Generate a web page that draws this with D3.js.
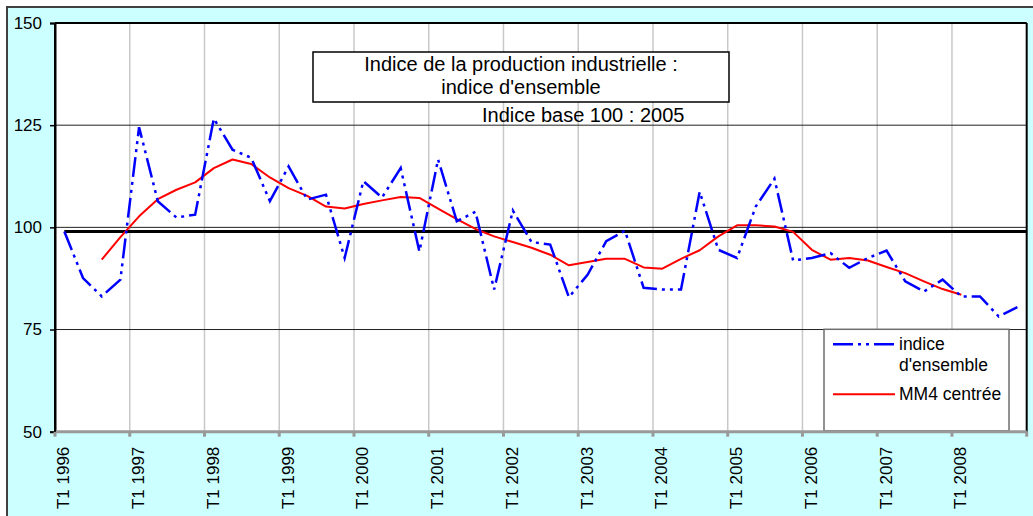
<!DOCTYPE html>
<html>
<head>
<meta charset="utf-8">
<script src="https://cdn.jsdelivr.net/npm/d3@7"></script>
<style>
  body { margin: 0; background: #fff; }
  text { font-family: Arial, "Liberation Sans", sans-serif; fill: #000; }
</style>
</head>
<body>
<div id="chart"></div>
<script>
// quarterly categories T1 1996 .. T4 2008
var years = d3.range(1996, 2009);
var categories = [];
years.forEach(function(y) {
  [1, 2, 3, 4].forEach(function(q) { categories.push("T" + q + " " + y); });
});

// indice d'ensemble (base 100 : 2005)
var indice = [
  99.0, 87.6, 83.1, 87.2, 124.5, 106.4, 102.4, 103.1,
  126.6, 119.0, 117.0, 106.4, 114.9, 106.8, 108.0, 92.5,
  111.3, 107.3, 114.5, 94.1, 116.6, 101.5, 103.8, 84.8,
  104.1, 96.4, 95.8, 82.9, 88.4, 96.6, 99.2, 85.2,
  84.8, 84.8, 108.7, 94.5, 92.5, 105.1, 111.9, 91.9,
  92.5, 93.7, 90.1, 92.5, 94.3, 86.8, 84.3, 87.2,
  83.1, 83.1, 78.2, 80.5
];

// MM4 centrée, first value sits on T3 1996
var mm4Start = 2;
var mm4 = [
  92.1, 97.6, 102.7, 106.9, 109.2, 111.0, 114.5, 116.6,
  115.5, 112.2, 109.6, 107.7, 105.1, 104.6, 105.7, 106.6,
  107.4, 107.2, 104.6, 102.0, 99.6, 97.8, 96.4, 95.0,
  93.3, 90.7, 91.5, 92.3, 92.3, 90.2, 89.9, 92.3,
  94.4, 97.8, 100.5, 100.5, 100.2, 98.9, 94.5, 92.1,
  92.5, 91.9, 90.3, 88.8, 86.8, 84.9, 83.5
];

var refLevel = 99.0;
var yTicks = [50, 75, 100, 125, 150];
var titleLines = ["Indice de la production industrielle :", "indice d'ensemble"];
var subTitle = "Indice base 100 : 2005";
var legendItems = [
  { lines: ["indice", "d'ensemble"], color: "#0000ff", dash: "20,5,3,5,3,5", w: 2.5 },
  { lines: ["MM4 centrée"], color: "#ff0000", dash: null, w: 2 }
];

var svgWidth = 1033;
var svgHeight = 516;
var margin = { top: 23, right: 6.3, bottom: 84.3, left: 55 };
var width = svgWidth - margin.left - margin.right;
var height = svgHeight - margin.top - margin.bottom;

var svg = d3.select("#chart").append("svg")
  .attr("width", svgWidth)
  .attr("height", svgHeight);

// chart area background + border
svg.append("rect")
  .attr("x", 7).attr("y", 7)
  .attr("width", svgWidth).attr("height", svgHeight)
  .attr("fill", "#ccffff")
  .attr("stroke", "#404040")
  .attr("stroke-width", 2);

var chartGroup = svg.append("g")
  .attr("transform", `translate(${margin.left}, ${margin.top})`);

var x = d3.scaleBand()
  .domain(categories)
  .range([0, width])
  .padding(0);
var bw = x.bandwidth();
var cx = function(c) { return x(c) + bw / 2; };

var y = d3.scaleLinear()
  .domain([50, 150])
  .range([height, 0]);

// plot area
chartGroup.append("rect")
  .attr("width", width).attr("height", height)
  .attr("fill", "#fff");

// vertical gridlines at each year boundary
var yearStarts = categories.filter(function(c) { return c.indexOf("T1") === 0; });
chartGroup.append("g").selectAll("line")
  .data(yearStarts.slice(1))
  .enter().append("line")
  .attr("x1", d => x(d)).attr("x2", d => x(d))
  .attr("y1", 0).attr("y2", height)
  .attr("stroke", "#c8c8c8")
  .attr("stroke-width", 1.5);

// horizontal gridlines
chartGroup.append("g").selectAll("line")
  .data(yTicks.filter(v => v > 50 && v < 150))
  .enter().append("line")
  .attr("x1", 0).attr("x2", width)
  .attr("y1", d => y(d)).attr("y2", d => y(d))
  .attr("stroke", "#222")
  .attr("stroke-width", 1);

// title box
var boxX = 313 - margin.left, boxY = 52 - margin.top;
chartGroup.append("rect")
  .attr("x", boxX).attr("y", boxY)
  .attr("width", 416).attr("height", 50)
  .attr("fill", "#fff")
  .attr("stroke", "#000")
  .attr("stroke-width", 1.5);

chartGroup.append("g").selectAll("text")
  .data(titleLines)
  .enter().append("text")
  .attr("x", boxX + 208)
  .attr("y", (d, i) => boxY + 19 + i * 23)
  .attr("text-anchor", "middle")
  .style("font-size", "20px")
  .text(d => d);

chartGroup.append("text")
  .attr("x", 482 - margin.left)
  .attr("y", 122 - margin.top)
  .style("font-size", "20px")
  .text(subTitle);

// reference level line
chartGroup.append("line")
  .attr("x1", cx(categories[0])).attr("x2", width)
  .attr("y1", y(refLevel)).attr("y2", y(refLevel))
  .attr("stroke", "#000")
  .attr("stroke-width", 3);

// series
var line = d3.line()
  .x(d => cx(d.cat))
  .y(d => y(d.value));

var indiceData = indice.map((v, i) => ({ cat: categories[i], value: v }));
var mm4Data = mm4.map((v, i) => ({ cat: categories[i + mm4Start], value: v }));

chartGroup.append("path")
  .datum(mm4Data)
  .attr("d", line)
  .attr("fill", "none")
  .attr("stroke", legendItems[1].color)
  .attr("stroke-width", legendItems[1].w)
  .attr("stroke-linejoin", "round");

chartGroup.append("path")
  .datum(indiceData)
  .attr("d", line)
  .attr("fill", "none")
  .attr("stroke", legendItems[0].color)
  .attr("stroke-width", legendItems[0].w)
  .attr("stroke-dasharray", legendItems[0].dash);

// border lines: top and right black
chartGroup.append("line")
  .attr("x1", 0).attr("x2", width).attr("y1", 0).attr("y2", 0)
  .attr("stroke", "#000").attr("stroke-width", 2);
chartGroup.append("line")
  .attr("x1", width).attr("x2", width).attr("y1", 0).attr("y2", height)
  .attr("stroke", "#000").attr("stroke-width", 2);

// legend
var legend = chartGroup.append("g")
  .attr("transform", `translate(${824 - margin.left}, ${329.3 - margin.top})`);
legend.append("rect")
  .attr("width", 185).attr("height", 101.5)
  .attr("fill", "#fff")
  .attr("stroke", "#6e6e6e")
  .attr("stroke-width", 1.5);

var legendRows = [15, 65];
legendItems.forEach(function(item, i) {
  var ly = legendRows[i];
  legend.append("line")
    .attr("x1", 9).attr("x2", 71)
    .attr("y1", ly).attr("y2", ly)
    .attr("stroke", item.color)
    .attr("stroke-width", item.w)
    .attr("stroke-dasharray", item.dash);
  item.lines.forEach(function(t, j) {
    legend.append("text")
      .attr("x", 75)
      .attr("y", ly + 6 + j * 21)
      .style("font-size", "17.5px")
      .text(t);
  });
});

// y axis
var leftAxis = d3.axisLeft(y).tickValues(yTicks).tickSize(5).tickPadding(8);
var yAxis = chartGroup.append("g").call(leftAxis);
yAxis.select(".domain").attr("stroke", "#000").attr("stroke-width", 2);
yAxis.selectAll(".tick line").attr("stroke", "#000").attr("stroke-width", 1.5);
yAxis.selectAll("text")
  .style("font-size", "17px")
  .style("font-family", "Arial, 'Liberation Sans', sans-serif")
  .attr("fill", "#000");

// x axis (ticks between categories, labels on T1 quarters)
var xAxis = chartGroup.append("g")
  .attr("transform", `translate(0, ${height})`);
xAxis.append("line")
  .attr("x1", 0).attr("x2", width)
  .attr("stroke", "#999").attr("stroke-width", 3);
xAxis.selectAll(".xtick")
  .data(yearStarts.map(d => x(d)).concat([width]))
  .enter().append("line")
  .attr("class", "xtick")
  .attr("x1", d => d).attr("x2", d => d)
  .attr("y1", 0).attr("y2", 5)
  .attr("stroke", "#999").attr("stroke-width", 3);
xAxis.selectAll(".xlabel")
  .data(yearStarts)
  .enter().append("text")
  .attr("class", "xlabel")
  .attr("transform", d => `translate(${cx(d) - 1}, 15) rotate(-90)`)
  .attr("text-anchor", "end")
  .attr("dy", "0.35em")
  .style("font-size", "17px")
  .text(d => d);

// redraw left axis line over plot
chartGroup.append("line")
  .attr("x1", 0).attr("x2", 0).attr("y1", 0).attr("y2", height)
  .attr("stroke", "#000").attr("stroke-width", 2);
</script>
</body>
</html>
